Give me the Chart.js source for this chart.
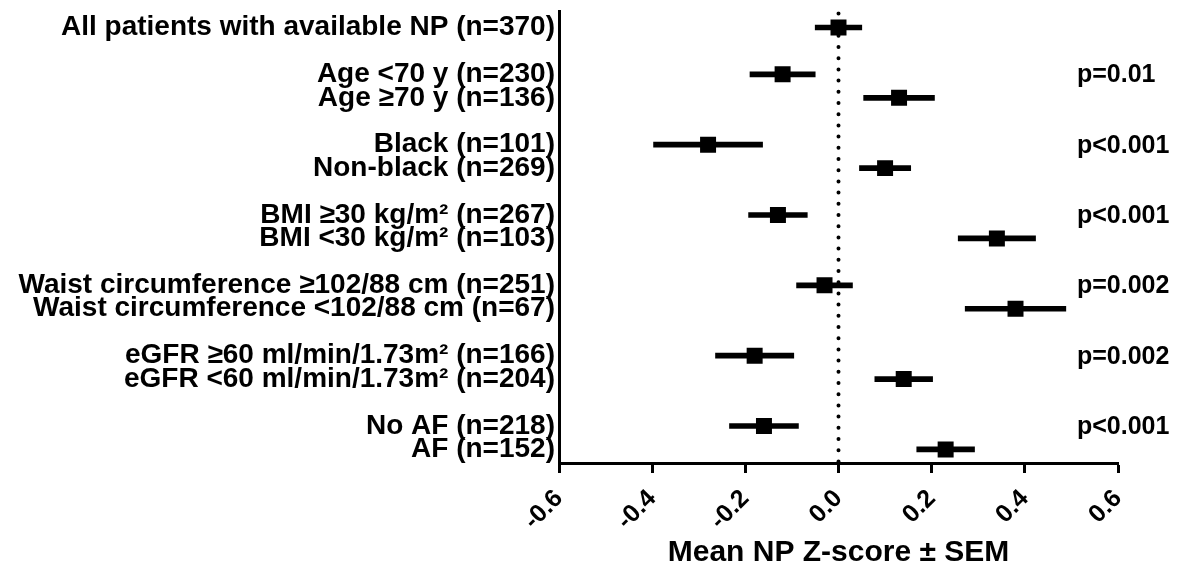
<!DOCTYPE html>
<html lang="en">
<head>
    <meta charset="UTF-8">
    <title>Mean NP Z-score by subgroup</title>
    <script src="https://cdn.jsdelivr.net/npm/chart.js"></script>
    <style>
        body {
            margin: 0;
            padding: 0;
            background-color: white;
        }
        .chart-box {
            width: 1188px;
            height: 577px;
            position: relative;
        }
    </style>
</head>
<body>
    <div class="chart-box">
        <canvas id="forestChart"></canvas>
    </div>

    <script>
        // one entry per row, blank rows separate the subgroups
        const rowLabels = [
            'All patients with available NP (n=370)',
            '',
            'Age <70 y (n=230)',
            'Age \u226570 y (n=136)',
            '',
            'Black (n=101)',
            'Non-black (n=269)',
            '',
            'BMI \u226530 kg/m\u00b2 (n=267)',
            'BMI <30 kg/m\u00b2 (n=103)',
            '',
            'Waist circumference \u2265102/88 cm (n=251)',
            'Waist circumference <102/88 cm (n=67)',
            '',
            'eGFR \u226560 ml/min/1.73m\u00b2 (n=166)',
            'eGFR <60 ml/min/1.73m\u00b2 (n=204)',
            '',
            'No AF (n=218)',
            'AF (n=152)'
        ];
        const meanZ = [0.00, null, -0.12, 0.13, null, -0.28, 0.10, null, -0.13, 0.34, null, -0.03, 0.38, null, -0.18, 0.14, null, -0.16, 0.23];
        const semZ  = [0.05, null, 0.07, 0.076, null, 0.117, 0.055, null, 0.063, 0.083, null, 0.06, 0.108, null, 0.084, 0.062, null, 0.074, 0.062];

        // p-values, shown next to the first row of each pair
        const pLabels = ['p=0.01', 'p<0.001', 'p<0.001', 'p=0.002', 'p=0.002', 'p<0.001'];
        const pRows = [2, 5, 8, 11, 14, 17];

        const xTicks = [-0.6, -0.4, -0.2, 0.0, 0.2, 0.4, 0.6];

        const FONT = "'Liberation Sans', Arial, sans-serif";

        const semBars = [];
        const meanPoints = [];
        meanZ.forEach((m, i) => {
            if (m === null) return;
            semBars.push({ y: i, x: [m - semZ[i], m + semZ[i]] });
            meanPoints.push({ x: m, y: i });
        });

        const pValuePlugin = {
            id: 'pValues',
            afterDatasetsDraw(chart) {
                const { ctx, chartArea } = chart;
                const yScale = chart.scales.y;
                ctx.save();
                ctx.font = 'bold 25px ' + FONT;
                ctx.fillStyle = '#000';
                ctx.textAlign = 'left';
                ctx.textBaseline = 'middle';
                pLabels.forEach((t, i) => {
                    ctx.fillText(t, chartArea.right - 41, yScale.getPixelForValue(pRows[i]) + 1);
                });
                ctx.restore();
            }
        };

        const ctx = document.getElementById('forestChart').getContext('2d');
        const chart = new Chart(ctx, {
            type: 'scatter',
            data: {
                datasets: [
                    {
                        type: 'line',
                        data: [{ x: 0, y: -0.6 }, { x: 0, y: 18.55 }],
                        borderColor: '#000',
                        borderWidth: 4,
                        borderDash: [0, 11.2],
                        borderCapStyle: 'round',
                        pointRadius: 0,
                        fill: false,
                        order: 3
                    },
                    {
                        type: 'bar',
                        indexAxis: 'y',
                        data: semBars,
                        backgroundColor: '#000',
                        borderWidth: 0,
                        barThickness: 5,
                        order: 2
                    },
                    {
                        type: 'scatter',
                        data: meanPoints,
                        pointStyle: 'rect',
                        pointRadius: 11.3,
                        pointBackgroundColor: '#000',
                        pointBorderWidth: 0,
                        order: 1
                    }
                ]
            },
            options: {
                responsive: true,
                maintainAspectRatio: false,
                animation: false,
                layout: { padding: { top: 10, right: 70, left: 0, bottom: 0 } },
                plugins: {
                    legend: { display: false },
                    tooltip: { enabled: false }
                },
                scales: {
                    x: {
                        type: 'linear',
                        offset: false,
                        min: -0.6,
                        max: 0.6,
                        afterBuildTicks: (scale) => {
                            scale.ticks = xTicks.map(v => ({ value: v }));
                        },
                        afterFit: (scale) => { scale.height = 114; },
                        ticks: {
                            autoSkip: false,
                            maxRotation: 45,
                            minRotation: 45,
                            padding: 11,
                            color: '#000',
                            font: { family: FONT, size: 25, weight: 'bold' },
                            callback: (v) => Number(v).toFixed(1)
                        },
                        grid: {
                            offset: false,
                            drawOnChartArea: false,
                            drawTicks: true,
                            tickLength: 10,
                            tickWidth: 3,
                            color: '#000'
                        },
                        border: { display: true, color: '#000', width: 3 },
                        title: {
                            display: true,
                            text: 'Mean NP Z-score \u00b1 SEM',
                            color: '#000',
                            font: { family: FONT, size: 30, weight: 'bold' },
                            padding: { top: 0, bottom: 6 }
                        }
                    },
                    y: {
                        type: 'linear',
                        offset: false,
                        reverse: true,
                        min: -0.69,
                        max: 18.58,
                        afterBuildTicks: (scale) => {
                            scale.ticks = rowLabels
                                .map((l, i) => ({ value: i, label: l }))
                                .filter(t => t.label !== '')
                                .map(t => ({ value: t.value }));
                        },
                        afterFit: (scale) => {
                            scale.width = 559;
                            scale.paddingTop = 0;
                            scale.paddingBottom = 0;
                        },
                        ticks: {
                            autoSkip: false,
                            padding: 4,
                            color: '#000',
                            font: { family: FONT, size: 28, weight: 'bold' },
                            callback: (v) => rowLabels[v]
                        },
                        grid: { display: false, drawTicks: false, offset: false },
                        border: { display: true, color: '#000', width: 3 }
                    }
                }
            },
            plugins: [pValuePlugin]
        });
    </script>
</body>
</html>
